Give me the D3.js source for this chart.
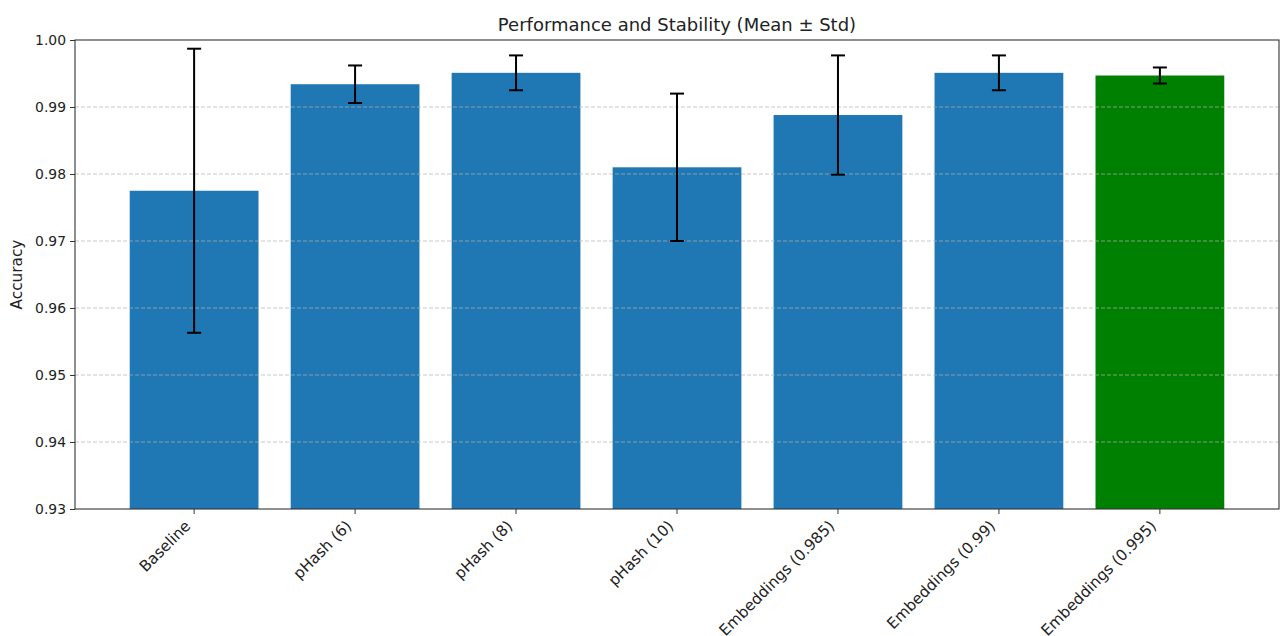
<!DOCTYPE html>
<html>
<head>
<meta charset="utf-8">
<script src="https://cdn.jsdelivr.net/npm/d3@7"></script>
<style>
  html, body { margin: 0; padding: 0; background: #fff; }
  svg { display: block; font-family: "DejaVu Sans", sans-serif; }
</style>
</head>
<body>
<svg id="chart" width="1284" height="636"></svg>
<script>
const categories = ["Baseline", "pHash (6)", "pHash (8)", "pHash (10)", "Embeddings (0.985)", "Embeddings (0.99)", "Embeddings (0.995)"];
const means = [0.9775, 0.9934, 0.9951, 0.9810, 0.9888, 0.9951, 0.9947];
const stds = [0.0212, 0.0028, 0.0026, 0.0110, 0.0089, 0.0026, 0.0012];
const barColors = ["#1f77b4", "#1f77b4", "#1f77b4", "#1f77b4", "#1f77b4", "#1f77b4", "green"];
const yTicks = [0.93, 0.94, 0.95, 0.96, 0.97, 0.98, 0.99, 1.00];
const yDomain = [0.93, 1.00];
const title = "Performance and Stability (Mean \u00B1 Std)";
const yLabel = "Accuracy";

const svg = d3.select("#chart");
const m = { left: 75, right: 1279, top: 40, bottom: 509 };

const x = d3.scaleBand().domain(categories).range([m.left, m.right])
  .paddingInner(0.2).paddingOuter(0.34);
const y = d3.scaleLinear().domain(yDomain).range([m.bottom, m.top]);

const data = categories.map((c, i) => ({ c, mean: means[i], std: stds[i], color: barColors[i] }));

// bars
svg.append("g").selectAll("rect").data(data).join("rect")
  .attr("x", d => x(d.c))
  .attr("width", x.bandwidth())
  .attr("y", d => y(d.mean))
  .attr("height", d => m.bottom - y(d.mean))
  .attr("fill", d => d.color);

// grid (above bars)
svg.append("g").selectAll("line").data(yTicks.slice(1, -1)).join("line")
  .attr("x1", m.left).attr("x2", m.right)
  .attr("y1", d => y(d)).attr("y2", d => y(d))
  .attr("stroke", "#b0b0b0").attr("stroke-opacity", 0.7)
  .attr("stroke-width", 1).attr("stroke-dasharray", "4,2");

// error bars
const eb = svg.append("g").attr("stroke", "#000").attr("stroke-width", 2);
data.forEach(d => {
  const cx = x(d.c) + x.bandwidth() / 2;
  const yt = y(d.mean + d.std), yb = y(d.mean - d.std);
  eb.append("line").attr("x1", cx).attr("x2", cx).attr("y1", yt).attr("y2", yb);
  eb.append("line").attr("x1", cx - 7).attr("x2", cx + 7).attr("y1", yt).attr("y2", yt);
  eb.append("line").attr("x1", cx - 7).attr("x2", cx + 7).attr("y1", yb).attr("y2", yb);
});

// y axis
const yAxis = d3.axisLeft(y).tickValues(yTicks).tickFormat(d3.format(".2f")).tickSize(5).tickPadding(4);
const gy = svg.append("g").attr("transform", `translate(${m.left},0)`).call(yAxis);
gy.select(".domain").remove();
gy.selectAll("line").attr("stroke", "#333");
gy.selectAll("text").attr("font-size", "13.9px").attr("fill", "#222").attr("font-family", "DejaVu Sans");

// x axis
const xAxis = d3.axisBottom(x).tickSize(5).tickFormat("");
const gx = svg.append("g").attr("transform", `translate(0,${m.bottom})`).call(xAxis);
gx.select(".domain").remove();
gx.selectAll("line").attr("stroke", "#333");

svg.append("g").selectAll("text").data(categories).join("text")
  .attr("transform", d => `translate(${x(d) + x.bandwidth() / 2 - 2.6},${m.bottom + 18}) rotate(-45)`)
  .attr("text-anchor", "end")
  .attr("font-size", "15.3px")
  .attr("fill", "#222")
  .text(d => d);

// frame
svg.append("rect")
  .attr("x", m.left).attr("y", m.top)
  .attr("width", m.right - m.left).attr("height", m.bottom - m.top)
  .attr("fill", "none").attr("stroke", "#333").attr("stroke-width", 1.1);

// title
svg.append("text")
  .attr("x", (m.left + m.right) / 2).attr("y", 31)
  .attr("text-anchor", "middle").attr("font-size", "18px").attr("fill", "#222")
  .text(title);

// y label
svg.append("text")
  .attr("transform", `translate(22,${(m.top + m.bottom) / 2}) rotate(-90)`)
  .attr("text-anchor", "middle").attr("font-size", "15.3px").attr("fill", "#222")
  .text(yLabel);
</script>
</body>
</html>
